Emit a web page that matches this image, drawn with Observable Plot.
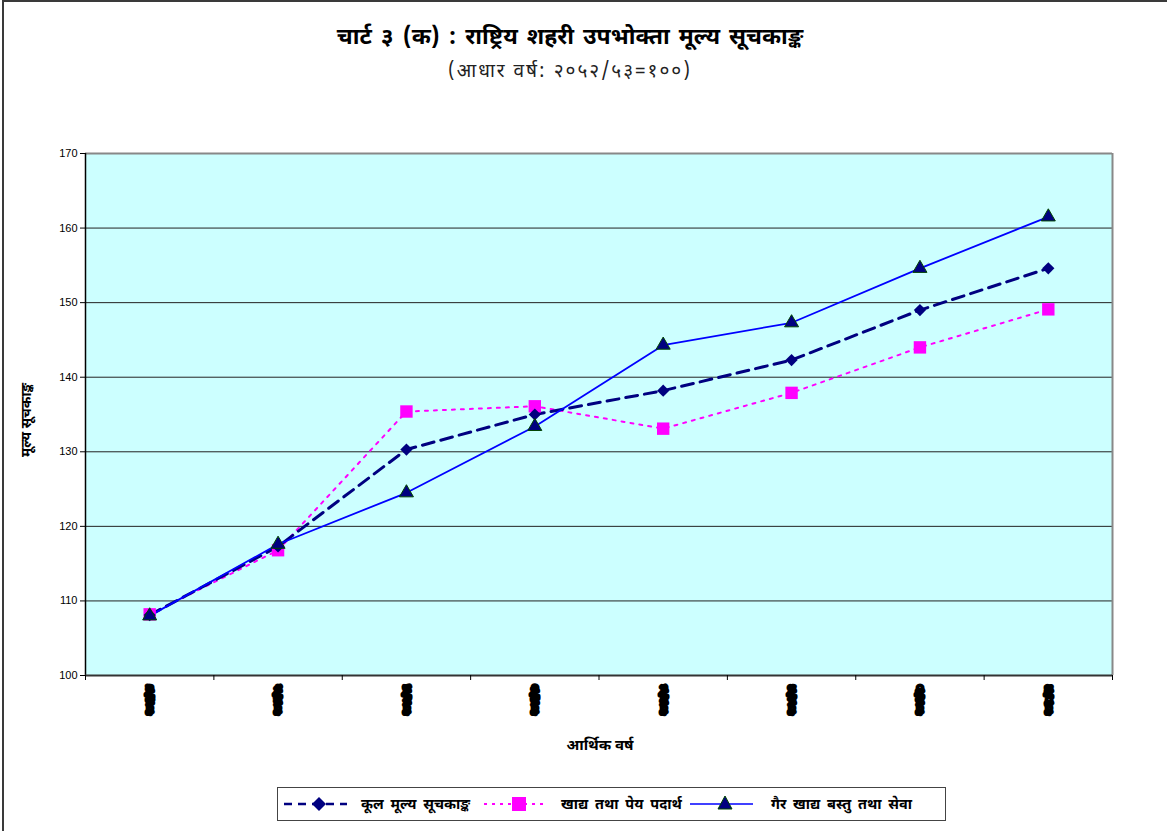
<!DOCTYPE html>
<html><head><meta charset="utf-8">
<script src="https://cdn.jsdelivr.net/npm/d3@7"></script>
<script src="https://cdn.jsdelivr.net/npm/@observablehq/plot@0.6"></script>
<style>
body{margin:0;width:1167px;height:831px;overflow:hidden;background:#fff;position:relative;font-family:"Noto Sans Devanagari","Lohit Devanagari","Noto Sans","Liberation Sans",sans-serif;}
#frame{position:absolute;left:2px;top:0px;width:1200px;height:900px;border:2px solid #3a3a3a;box-sizing:border-box}
#chart{position:absolute;left:0;top:0}
#title{position:absolute;left:0;width:1140px;top:23px;text-align:center;font-weight:bold;font-size:23px;color:#000;word-spacing:3px}
#sub{position:absolute;left:0;width:1140px;top:60px;text-align:center;font-size:19px;color:#222;letter-spacing:2px}
#ylabel{position:absolute;left:27px;top:420px;transform:translate(-50%,-50%) rotate(-90deg);font-weight:bold;font-size:14px;white-space:nowrap}
#xlabel{position:absolute;left:600px;top:746px;transform:translate(-50%,-50%);font-weight:bold;font-size:15px;white-space:nowrap}
#legend{position:absolute;left:277px;top:787px;width:669px;height:34px;border:1.5px solid #444;box-sizing:border-box;background:#fff}
</style></head><body>
<div id="frame"></div>
<div id="chart"></div>
<div id="title">चार्ट ३ (क) : राष्ट्रिय शहरी उपभोक्ता मूल्य सूचकाङ्क</div>
<div id="sub">(आधार वर्ष: २०५२/५३=१००)</div>
<div id="ylabel">मूल्य सूचकाङ्क</div>
<div id="xlabel">आर्थिक वर्ष</div>
<div id="legend"></div>
<script>
const years = ["२०५३/५४","२०५४/५५","२०५५/५६","२०५६/५७","२०५७/५८","२०५८/५९","२०५९/६०","२०६०/६१"];
const totalIndex   = [108.1, 117.3, 130.3, 135.0, 138.2, 142.3, 149.0, 154.6];
const foodIndex    = [108.2, 116.8, 135.4, 136.1, 133.1, 137.9, 144.0, 149.1];
const nonFoodIndex = [108.0, 117.6, 124.5, 133.4, 144.3, 147.3, 154.6, 161.5];
const seriesNames = ["कूल मूल्य सूचकाङ्क", "खाद्य तथा पेय पदार्थ", "गैर खाद्य बस्तु तथा सेवा"];
const yTicks = [100, 110, 120, 130, 140, 150, 160, 170];
const gridTicks = [110, 120, 130, 140, 150, 160];
const xPositions = [1, 2, 3, 4, 5, 6, 7, 8];
const xBounds = [0.5, 1.5, 2.5, 3.5, 4.5, 5.5, 6.5, 7.5, 8.5];

const rows = years.map((y, k) => ({i: xPositions[k], year: y, total: totalIndex[k], food: foodIndex[k], nonFood: nonFoodIndex[k]}));

const navy = "#000080", magenta = "#ff00ff", blue = "#0000ff";
const chart = Plot.plot({
  width: 1167, height: 831,
  marginTop: 153, marginBottom: 156, marginLeft: 85, marginRight: 55,
  style: {background: "transparent", fontFamily: "'Liberation Sans', Arial, sans-serif"},
  x: {type: "linear", domain: [0.5, 8.5]},
  y: {domain: [100, 170]},
  marks: [
    Plot.frame({fill: "#ccffff", stroke: null}),
    Plot.ruleY(gridTicks, {stroke: "#222", strokeWidth: 1}),
    Plot.ruleY([170], {stroke: "#888", strokeWidth: 2}),
    Plot.ruleX([8.5], {stroke: "#888", strokeWidth: 2}),
    Plot.ruleX([0.5], {stroke: "#000", strokeWidth: 1.5}),
    Plot.ruleY([100], {stroke: "#333", strokeWidth: 2}),
    Plot.axisY({ticks: yTicks, tickSize: 5, tickPadding: 3, fontSize: 11, label: null, tickFormat: d3.format("d")}),
    Plot.axisX({ticks: xBounds, tickSize: 5, tickFormat: () => "", label: null}),
    Plot.axisX({ticks: xPositions, tickSize: 0, tickPadding: 10, tickRotate: -90, fontSize: 7.5, fontWeight: "bold",
      textStroke: "#000", textStrokeWidth: 5, tickFormat: i => years[i - 1], label: null,
      fontFamily: "'Noto Sans Devanagari', sans-serif"}),
    Plot.line(rows, {x: "i", y: "food", stroke: magenta, strokeWidth: 2, strokeDasharray: "3,6"}),
    Plot.line(rows, {x: "i", y: "total", stroke: navy, strokeWidth: 3, strokeDasharray: "12,7"}),
    Plot.line(rows, {x: "i", y: "nonFood", stroke: blue, strokeWidth: 1.8}),
    Plot.dot(rows, {x: "i", y: "food", symbol: "square", r: 7, fill: magenta, stroke: null}),
    Plot.dot(rows, {x: "i", y: "total", symbol: "diamond2", r: 5.5, fill: navy, stroke: null}),
    Plot.dot(rows, {x: "i", y: "nonFood", symbol: "triangle", r: 5.2, fill: navy, stroke: "#004400", strokeWidth: 1})
  ]
});
document.getElementById("chart").appendChild(chart);

// legend
const lg = d3.select("#legend").append("svg").attr("width", 666).attr("height", 31);
const items = [
  {x0: 6, mk: "diamond", color: navy, dash: "8,6", w: 2.5, name: seriesNames[0], tx: 83},
  {x0: 206, mk: "square", color: magenta, dash: "3,5", w: 2, name: seriesNames[1], tx: 283},
  {x0: 412, mk: "triangle", color: blue, dash: null, w: 1.5, name: seriesNames[2], tx: 493}
];
items.forEach(it => {
  lg.append("line").attr("x1", it.x0).attr("x2", it.x0 + 63).attr("y1", 16).attr("y2", 16)
    .attr("stroke", it.color).attr("stroke-width", it.w).attr("stroke-dasharray", it.dash);
  const cx = it.x0 + 35, cy = 16;
  if (it.mk === "diamond") lg.append("path").attr("d", `M${cx},${cy-7}L${cx+7},${cy}L${cx},${cy+7}L${cx-7},${cy}Z`).attr("fill", navy);
  if (it.mk === "square") lg.append("rect").attr("x", cx - 7).attr("y", cy - 7).attr("width", 14).attr("height", 14).attr("fill", magenta);
  if (it.mk === "triangle") lg.append("path").attr("d", `M${cx},${cy-8}L${cx+7},${cy+5}L${cx-7},${cy+5}Z`).attr("fill", navy).attr("stroke", "#004400");
  lg.append("text").attr("x", it.tx).attr("y", 21).attr("font-size", 14.5).attr("font-weight", "bold")
    .attr("word-spacing", 3).text(it.name);
});
</script>
</body></html>
